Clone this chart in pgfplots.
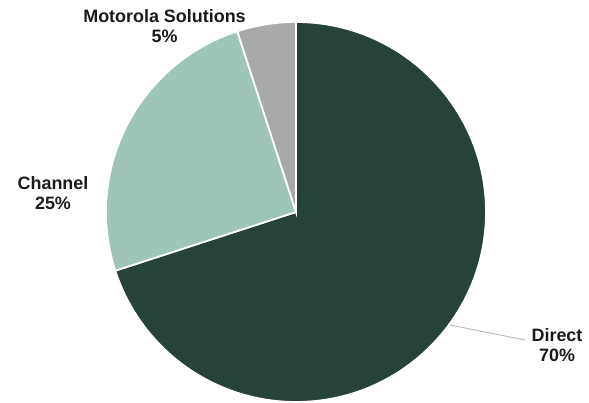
\documentclass[border=0pt]{standalone}
\usepackage{pgfplots}
\usepackage{pgfplotstable}
\pgfplotsset{compat=1.18}
\usepackage{fontspec}
\setmainfont{Liberation Sans}
\definecolor{cDirect}{HTML}{27423A}
\definecolor{cChannel}{HTML}{9FC4B8}
\definecolor{cMoto}{HTML}{A7AAA8}
\definecolor{cText}{HTML}{1A1A1A}
\pgfplotstableread{
label value
Direct 70
Channel 25
Motorola 5
}\piedata
\begin{document}
\begin{tikzpicture}
\pgfplotstablegetelem{0}{value}\of\piedata \let\vA\pgfplotsretval
\pgfplotstablegetelem{1}{value}\of\piedata \let\vB\pgfplotsretval
\pgfplotstablegetelem{2}{value}\of\piedata \let\vC\pgfplotsretval
\pgfmathsetmacro\aA{90}
\pgfmathsetmacro\aB{\aA-3.6*\vA}
\pgfmathsetmacro\aC{\aB-3.6*\vB}
\pgfmathsetmacro\aD{\aC-3.6*\vC}
\begin{axis}[
  scale only axis, width=589bp, height=403bp,
  xmin=0, xmax=589, ymin=-403, ymax=0,
  axis lines=none, clip=false,
]
\path[use as bounding box] (axis cs:0,-403) rectangle (axis cs:589,0);
\fill[cDirect, draw=white, line width=1.8pt] (axis cs:296,-212) -- ++(\aA:190bp) arc[start angle=\aA, end angle=\aB, radius=190bp] -- cycle;
\fill[cChannel, draw=white, line width=1.8pt] (axis cs:296,-212) -- ++(\aB:190bp) arc[start angle=\aB, end angle=\aC, radius=190bp] -- cycle;
\fill[cMoto, draw=white, line width=1.8pt] (axis cs:296,-212) -- ++(\aC:190bp) arc[start angle=\aC, end angle=\aD, radius=190bp] -- cycle;
\draw[gray!55, line width=0.9pt] (axis cs:450,-325) -- (axis cs:525,-340);
\node[align=center, text=cText, font=\fontsize{18}{21}\selectfont\bfseries, anchor=base] at (axis cs:164.5,-43) {Motorola Solutions\\5\%};
\node[align=center, text=cText, font=\fontsize{18}{21}\selectfont\bfseries, anchor=base] at (axis cs:53,-210) {Channel\\25\%};
\node[align=center, text=cText, font=\fontsize{18}{21}\selectfont\bfseries, anchor=base] at (axis cs:557,-362) {Direct\\70\%};
\end{axis}
\end{tikzpicture}
\end{document}
